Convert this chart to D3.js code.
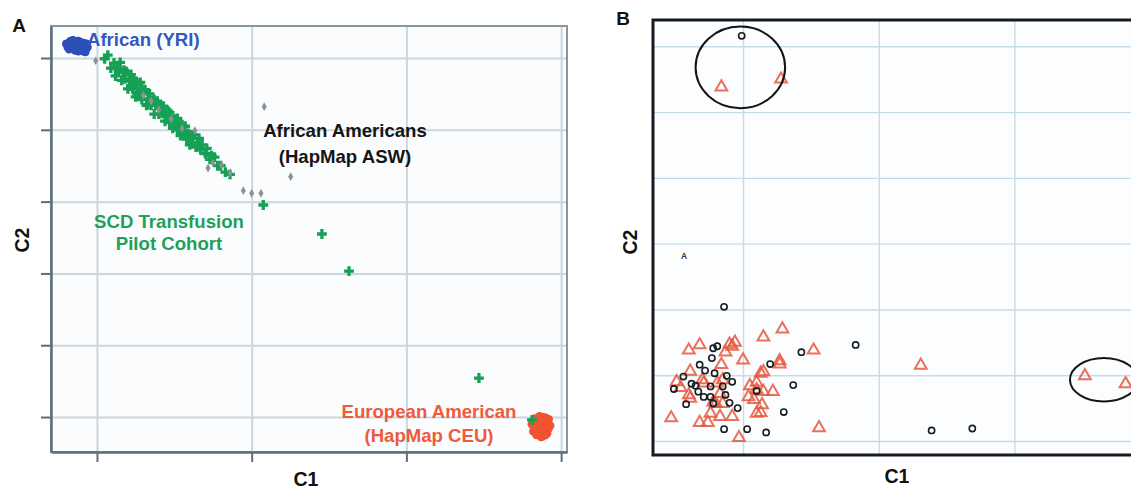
<!DOCTYPE html>
<html>
<head>
<meta charset="utf-8">
<script src="https://cdn.jsdelivr.net/npm/d3@7"></script>
<style>
  html, body { margin: 0; padding: 0; background: #ffffff; }
  svg { display: block; }
  text { font-family: "Liberation Sans", Arial, sans-serif; font-weight: bold; }
</style>
</head>
<body>
<svg id="fig" width="1131" height="490"></svg>
<script>
// ---------- Panel A: principal components C1 / C2 ----------
const gridA_C1 = [0, 1, 2, 3];
const gridA_C2 = [0, 1, 2, 3, 4, 5];

// HapMap YRI (African)
const yriC1 = [-0.19,-0.18,-0.17,-0.17,-0.16,-0.16,-0.15,-0.15,-0.14,-0.14,-0.13,-0.13,-0.12,-0.12,-0.11,-0.11,-0.10,-0.10,-0.09,-0.09,-0.08,-0.08,-0.07,-0.07,-0.18,-0.165,-0.145,-0.125,-0.105,-0.095,-0.085,-0.06,-0.19,-0.155,-0.135,-0.115,-0.075,-0.12,-0.20,-0.065];
const yriC2 = [5.19,5.22,5.16,5.24,5.20,5.13,5.23,5.17,5.10,5.21,5.19,5.14,5.24,5.16,5.20,5.11,5.18,5.22,5.14,5.19,5.16,5.21,5.12,5.18,5.12,5.18,5.15,5.22,5.15,5.10,5.09,5.15,5.15,5.25,5.17,5.13,5.08,5.09,5.20,5.20];

// HapMap CEU (European American)
const ceuC1 = [2.81,2.82,2.83,2.83,2.84,2.85,2.85,2.86,2.86,2.87,2.87,2.88,2.88,2.89,2.89,2.90,2.90,2.91,2.91,2.92,2.92,2.84,2.86,2.88,2.90,2.82,2.85,2.87,2.89,2.93,2.83,2.90,2.86,2.88,2.92];
const ceuC2 = [-0.10,-0.20,-0.02,-0.14,-0.25,-0.06,-0.18,0.01,-0.12,-0.22,-0.04,-0.15,-0.27,-0.08,-0.19,-0.01,-0.12,-0.23,-0.06,-0.16,-0.10,-0.08,-0.16,-0.10,-0.17,-0.12,-0.24,-0.28,-0.02,-0.12,-0.20,-0.25,-0.06,0.00,-0.03];

// SCD transfusion pilot cohort
const scdC1 = [0.05,0.07,0.09,0.11,0.12,0.14,0.15,0.16,0.17,0.18,0.19,0.20,0.21,0.22,0.23,0.24,0.25,0.26,0.27,0.28,0.29,0.30,0.31,0.32,0.33,0.34,0.35,0.36,0.37,0.38,0.39,0.40,0.41,0.42,0.43,0.44,0.45,0.46,0.47,0.48,0.49,0.50,0.51,0.52,0.53,0.54,0.55,0.56,0.57,0.58,0.59,0.60,0.61,0.62,0.63,0.64,0.65,0.66,0.67,0.68,0.70,0.71,0.73,0.74,0.76,0.78,0.80,0.83,0.86,
  0.13,0.18,0.22,0.26,0.29,0.33,0.37,0.40,0.44,0.47,0.52,0.57,0.175,0.233,
  1.075,1.454,1.629,2.469,2.812];
const scdC2 = [4.99,5.04,4.86,4.93,4.75,4.83,4.94,4.69,4.80,4.71,4.81,4.57,4.68,4.77,4.57,4.66,4.46,4.65,4.52,4.66,4.42,4.52,4.56,4.34,4.43,4.50,4.34,4.41,4.22,4.34,4.40,4.22,4.32,4.23,4.33,4.12,4.20,4.26,4.10,4.19,4.02,4.10,4.15,4.00,4.07,3.92,4.07,3.96,4.05,3.87,3.95,3.79,3.93,3.82,3.93,3.76,3.82,3.88,3.72,3.79,3.67,3.74,3.59,3.64,3.62,3.50,3.50,3.41,3.38,
  4.86,4.81,4.61,4.50,4.57,4.35,4.42,4.34,4.25,4.24,4.16,3.92,4.83,4.72,
  2.953,2.549,2.033,0.543,-0.04];

// HapMap ASW (African Americans)
const aswC1 = [-0.008,1.081,0.633,0.750,0.806,0.860,0.718,0.946,1.000,1.060,1.252,0.30,0.40,0.55,0.48,0.35];
const aswC2 = [4.962,4.322,3.988,3.538,3.510,3.394,3.468,3.152,3.116,3.116,3.347,4.48,4.28,4.02,4.15,4.40];

// ---------- Panel B: cohort close-up ----------
const gridB_C1 = [0, 1, 2];
const gridB_C2 = [0, 1, 2, 3, 4, 5, 6];

const circC1 = [-0.14,0.83,0.43,0.20,0.37,0.30,0.17,0.03,-0.14,-0.04,-0.10,-0.13,-0.08,-0.12,-0.19,-0.22,-0.23,-0.32,-0.28,-0.21,-0.44,-0.38,-0.35,-0.51,-0.33,-0.29,-0.24,-0.22,-0.42,0.10,-0.24,-0.15,1.39,1.69,-0.01];
const circC2 = [2.04,1.46,1.35,1.17,0.85,0.44,0.13,0.18,0.18,0.50,0.58,0.70,0.90,0.99,1.44,1.41,1.26,1.16,1.07,1.03,0.98,0.87,0.84,0.79,0.75,0.67,0.67,0.57,0.56,0.76,0.83,0.83,0.16,0.19,6.16];

const triC1 = [0.29,0.15,0.52,-0.08,-0.10,-0.32,-0.40,0.00,0.27,0.27,-0.16,0.15,-0.39,-0.49,0.05,0.10,0.15,0.22,0.08,0.14,-0.40,-0.29,-0.19,-0.17,-0.20,-0.15,-0.17,-0.08,0.10,-0.24,-0.32,-0.26,-0.53,-0.03,0.56,1.31,2.52,2.82,-0.16,0.28,
  -0.22,0.04,0.10,0.13,-0.15,-0.46,-0.39,-0.30,0.13,-0.13,-0.06];
const triC2 = [1.70,1.58,1.38,1.44,1.47,1.46,1.38,1.23,1.22,1.17,1.16,1.05,1.06,0.90,0.84,0.89,0.75,0.75,0.63,0.55,0.70,0.88,0.88,0.72,0.57,0.57,0.37,0.37,0.42,0.42,0.28,0.28,0.35,0.05,0.20,1.15,0.99,0.87,5.38,5.50,
  0.59,0.67,0.78,0.43,0.93,0.81,0.65,0.93,1.03,1.35,1.50];

// highlighted groups: centre C1, centre C2, half-width, half-height
const ringC1 = [-0.02, 2.66];
const ringC2 = [5.68, 0.93];
const ringRx = [0.33, 0.25];
const ringRy = [0.62, 0.33];

const svg = d3.select("#fig");
const zip = (a, b) => a.map((v, i) => [v, b[i]]);

// ===== Panel A =====
const xA = d3.scaleLinear().domain([-0.297, 3.038]).range([51, 567]);
const yA = d3.scaleLinear().domain([-0.487, 5.446]).range([452, 26]);
const gA = svg.append("g");

gA.append("rect").attr("x", 51).attr("y", 26).attr("width", 516).attr("height", 426).attr("fill", "#fbfcfd");

// grid
gA.append("g").attr("transform", "translate(0,452)")
  .call(d3.axisBottom(xA).tickValues(gridA_C1).tickSize(-426).tickFormat(""))
  .call(g => g.select(".domain").remove())
  .call(g => g.selectAll("line").attr("stroke", "#cbd6dd").attr("stroke-width", 2));
gA.append("g").attr("transform", "translate(51,0)")
  .call(d3.axisLeft(yA).tickValues(gridA_C2).tickSize(-516).tickFormat(""))
  .call(g => g.select(".domain").remove())
  .call(g => g.selectAll("line").attr("stroke", "#cbd6dd").attr("stroke-width", 2));

// frame (top/right lighter)
gA.append("rect").attr("x", 51).attr("y", 26).attr("width", 516).attr("height", 426)
  .attr("fill", "none").attr("stroke", "#8a979f").attr("stroke-width", 2);

// axes with outward ticks
gA.append("g").attr("transform", "translate(0,452)")
  .call(d3.axisBottom(xA).tickValues(gridA_C1).tickSize(10).tickSizeOuter(0).tickFormat(""))
  .call(g => g.select(".domain").attr("stroke", "#5e6f7b").attr("stroke-width", 2.5))
  .call(g => g.selectAll("line").attr("stroke", "#5e6f7b").attr("stroke-width", 2));
gA.append("g").attr("transform", "translate(51,0)")
  .call(d3.axisLeft(yA).tickValues(gridA_C2).tickSize(10).tickSizeOuter(0).tickFormat(""))
  .call(g => g.select(".domain").attr("stroke", "#5e6f7b").attr("stroke-width", 2.5))
  .call(g => g.selectAll("line").attr("stroke", "#5e6f7b").attr("stroke-width", 2));

// points
gA.append("g").selectAll("circle").data(zip(yriC1, yriC2)).join("circle")
  .attr("cx", d => xA(d[0])).attr("cy", d => yA(d[1])).attr("r", 4)
  .attr("fill", "#2d4fb8");
gA.append("g").selectAll("circle").data(zip(ceuC1, ceuC2)).join("circle")
  .attr("cx", d => xA(d[0])).attr("cy", d => yA(d[1])).attr("r", 4.2)
  .attr("fill", "#f0532f");
const cross = d3.symbol().type(d3.symbolCross).size(54);
gA.append("g").selectAll("path").data(zip(scdC1, scdC2)).join("path")
  .attr("transform", d => `translate(${xA(d[0])},${yA(d[1])})`)
  .attr("d", cross).attr("fill", "#15a056");
const diamond = d3.symbol().type(d3.symbolDiamond).size(22);
gA.append("g").selectAll("path").data(zip(aswC1, aswC2)).join("path")
  .attr("transform", d => `translate(${xA(d[0])},${yA(d[1])})`)
  .attr("d", diamond).attr("fill", "#8d9196");

// labels
const lab = (g, x, y, t, c, s, anchor) => g.append("text").attr("x", x).attr("y", y)
  .attr("fill", c).attr("font-size", s).attr("text-anchor", anchor || "middle").text(t);
lab(gA, 87, 46, "African (YRI)", "#3258c2", 18.6, "start");
lab(gA, 345, 137, "African Americans", "#151515", 18.6);
lab(gA, 345, 163, "(HapMap ASW)", "#151515", 18.6);
lab(gA, 169, 228, "SCD Transfusion", "#1f9f58", 18.6);
lab(gA, 169, 250, "Pilot Cohort", "#1f9f58", 18.6);
lab(gA, 429, 418, "European American", "#ee5a3c", 18.6);
lab(gA, 429, 442, "(HapMap CEU)", "#ee5a3c", 18.6);
lab(gA, 19, 32, "A", "#111", 19);
lab(gA, 306, 486, "C1", "#111", 19.5);
gA.append("text").attr("transform", "translate(29,240) rotate(-90)").attr("text-anchor", "middle")
  .attr("font-size", 19.5).attr("fill", "#111").text("C2");

// ===== Panel B =====
const xB = d3.scaleLinear().domain([-0.664, 3.0]).range([653, 1150]);
const yB = d3.scaleLinear().domain([-0.213, 6.40]).range([455, 20]);
const gB = svg.append("g");

gB.append("rect").attr("x", 653).attr("y", 20).attr("width", 497).attr("height", 435).attr("fill", "#fcfdfe");

gB.append("g").attr("transform", "translate(0,455)")
  .call(d3.axisBottom(xB).tickValues(gridB_C1).tickSize(-435).tickFormat(""))
  .call(g => g.select(".domain").remove())
  .call(g => g.selectAll("line").attr("stroke", "#c6dbe8").attr("stroke-width", 1.4));
gB.append("g").attr("transform", "translate(653,0)")
  .call(d3.axisLeft(yB).tickValues(gridB_C2).tickSize(-497).tickFormat(""))
  .call(g => g.select(".domain").remove())
  .call(g => g.selectAll("line").attr("stroke", "#c6dbe8").attr("stroke-width", 1.4));

gB.append("rect").attr("x", 653).attr("y", 20).attr("width", 497).attr("height", 435)
  .attr("fill", "none").attr("stroke", "#151b20").attr("stroke-width", 3);

const tri = d3.symbol().type(d3.symbolTriangle).size(60);
gB.append("g").selectAll("path").data(zip(triC1, triC2)).join("path")
  .attr("transform", d => `translate(${xB(d[0])},${yB(d[1])})`)
  .attr("d", tri).attr("fill", "none").attr("stroke", "#e5583f").attr("stroke-width", 2)
  .attr("stroke-opacity", 0.85);
gB.append("g").selectAll("circle").data(zip(circC1, circC2)).join("circle")
  .attr("cx", d => xB(d[0])).attr("cy", d => yB(d[1])).attr("r", 3.1)
  .attr("fill", "none").attr("stroke", "#161c20").attr("stroke-width", 1.6);

gB.append("g").selectAll("ellipse").data(ringC1.map((c, i) => i)).join("ellipse")
  .attr("cx", i => xB(ringC1[i])).attr("cy", i => yB(ringC2[i]))
  .attr("rx", i => xB(ringC1[i] + ringRx[i]) - xB(ringC1[i]))
  .attr("ry", i => yB(ringC2[i]) - yB(ringC2[i] + ringRy[i]))
  .attr("fill", "none").attr("stroke", "#151515").attr("stroke-width", 2);

lab(gB, 684, 259, "A", "#333", 8.5);
lab(gB, 623, 25, "B", "#111", 19);
lab(gB, 897, 483, "C1", "#111", 19.5);
gB.append("text").attr("transform", "translate(637,242) rotate(-90)").attr("text-anchor", "middle")
  .attr("font-size", 19.5).attr("fill", "#111").text("C2");
</script>
</body>
</html>
